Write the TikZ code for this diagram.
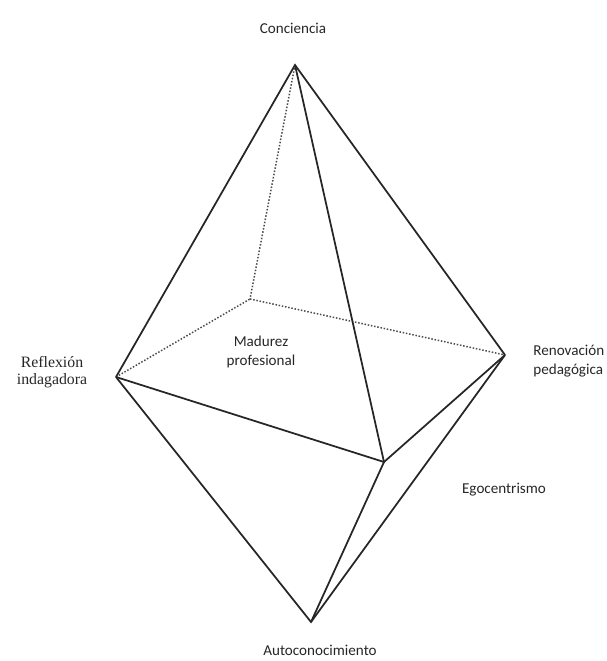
\documentclass[tikz,border=0pt]{standalone}
\usepackage{fontspec}
\setmainfont{Carlito}
\newfontfamily\serifo{Liberation Serif}
\usetikzlibrary{calc}
\tikzset{
  arista/.style={line width=0.35mm, color=black!85},
  oculta/.style={line width=0.3mm, color=black!70, densely dotted},
  etiqueta/.style={font=\fontsize{8.6}{10.5}\selectfont, color=black!85, inner sep=0pt}
}

\begin{document}
\begin{tikzpicture}[x=0.02cm, y=-0.02cm]
			%%%%% START %%%%%
			\useasboundingbox (0, 0) rectangle (606, 661);
			\clip (0, 0) rectangle (606, 661);
			
			\coordinate (conc) at (295, 65);
			\coordinate (refl) at (116, 377);
			\coordinate (reno) at (505, 355);
			\coordinate (fren) at (384, 462);
			\coordinate (fondo) at (250, 299);
			\coordinate (auto) at (311, 622);
			
			% aristas ocultas
			\draw[oculta] (conc) -- (fondo);
			\draw[oculta] (refl) -- (fondo);
			\draw[oculta] (fondo) -- (reno);
			
			% aristas visibles
			\draw[arista] (refl) -- (conc) -- (reno);
			\draw[arista] (conc) -- (fren);
			\draw[arista] (refl) -- (fren) -- (reno);
			\draw[arista] (refl) -- (auto) -- (reno);
			\draw[arista] (fren) -- (auto);
			
			% textos
			\node[etiqueta] (tconc) at (293, 28) {Conciencia};
			\node[etiqueta, font=\serifo\fontsize{9}{9.5}\selectfont, align=center] (trefl) at (52, 372) {Reflexión\\indagadora};
			\node[etiqueta, anchor=west, align=left] (treno) at (533, 361) {Renovación\\pedagógica};
			\node[etiqueta, align=center] (tmad) at (261, 352) {Madurez\\profesional};
			\node[etiqueta] (tego) at (504, 490) {Egocentrismo};
			\node[etiqueta] (tauto) at (320, 650) {Autoconocimiento};
			
			%%%%% END %%%%%
\end{tikzpicture}
\end{document}
